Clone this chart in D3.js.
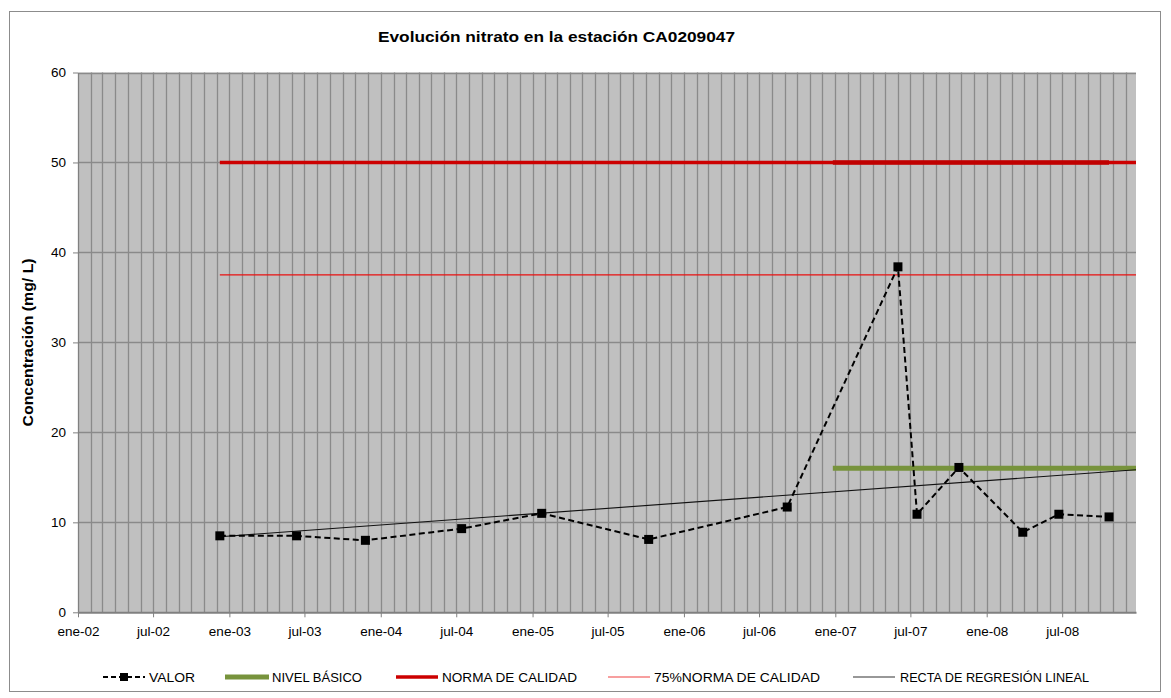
<!DOCTYPE html>
<html>
<head>
<meta charset="utf-8">
<script src="https://cdn.jsdelivr.net/npm/d3@7"></script>
<style>
  html, body { margin: 0; padding: 0; background: #ffffff; }
  svg { display: block; font-family: "Liberation Sans", Arial, sans-serif; }
</style>
</head>
<body>
<svg id="chart" width="1171" height="698"></svg>
<script>
// ---------------- DATA ----------------
const valorDates = ["2002-12-09","2003-06-12","2003-11-25","2004-07-14","2005-01-23","2005-10-08",
                    "2006-09-07","2007-06-01","2007-07-17","2007-10-26","2008-03-28","2008-06-23","2008-10-22"];
const valorValues = [8.5, 8.5, 8.0, 9.3, 11.0, 8.1, 11.7, 38.4, 10.9, 16.1, 8.9, 10.9, 10.6];

const normaDates = ["2002-12-09","2008-12-26"];
const normaValues = [50, 50];
const normaRecentDates = ["2006-12-26","2008-10-22"];
const normaRecentValues = [50, 50];

const norma75Dates = ["2002-12-09","2008-12-26"];
const norma75Values = [37.5, 37.5];

const nivelBasicoDates = ["2006-12-26","2008-12-26"];
const nivelBasicoValues = [16, 16];

const regresionDates = ["2002-12-09","2008-12-26"];
const regresionValues = [8.4, 15.85];

const xTickDates = ["2002-01-01","2002-07-01","2003-01-01","2003-07-01","2004-01-01","2004-07-01","2005-01-01",
                    "2005-07-01","2006-01-01","2006-07-01","2007-01-01","2007-07-01","2008-01-01","2008-07-01"];
const xTickLabels = ["ene-02","jul-02","ene-03","jul-03","ene-04","jul-04","ene-05",
                     "jul-05","ene-06","jul-06","ene-07","jul-07","ene-08","jul-08"];
const yTicks = [0, 10, 20, 30, 40, 50, 60];

const title = "Evolución nitrato en la estación CA0209047";
const yTitle = "Concentración (mg/ L)";
const legendLabels = ["VALOR", "NIVEL BÁSICO", "NORMA DE CALIDAD", "75%NORMA DE CALIDAD", "RECTA DE REGRESIÓN LINEAL"];

// ---------------- LAYOUT ----------------
const parse = d3.utcParse("%Y-%m-%d");
const svg = d3.select("#chart");
const L = 78, R = 1136, T = 72.5, B = 612.3;

const x = d3.scaleUtc().domain([parse("2002-01-01"), parse("2008-12-26")]).range([L, R]);
const y = d3.scaleLinear().domain([0, 60]).range([B, T]);

// outer border
svg.append("rect").attr("x", 9.5).attr("y", 11.5).attr("width", 1151).attr("height", 680)
  .attr("fill", "#ffffff").attr("stroke", "#8c8c8c").attr("stroke-width", 1);

// plot background
svg.append("rect").attr("x", L).attr("y", T).attr("width", R - L).attr("height", B - T).attr("fill", "#c0c0c0");

// vertical monthly gridlines
const months = d3.utcMonth.range(parse("2002-02-01"), parse("2008-12-26"));
svg.append("g").selectAll("line").data(months).join("line")
  .attr("x1", d => Math.round(x(d)) + 0.5).attr("x2", d => Math.round(x(d)) + 0.5)
  .attr("y1", T).attr("y2", B)
  .attr("stroke", "#8a8a8a").attr("stroke-width", 1.3);

// horizontal gridlines
svg.append("g").selectAll("line").data(yTicks.filter(v => v > 0)).join("line")
  .attr("x1", L).attr("x2", R)
  .attr("y1", d => Math.round(y(d)) + 0.5).attr("y2", d => Math.round(y(d)) + 0.5)
  .attr("stroke", "#8a8a8a").attr("stroke-width", 1.3);

// axes
const yAxis = svg.append("g").attr("transform", `translate(${L},0)`)
  .call(d3.axisLeft(y).tickValues(yTicks).tickSize(5).tickSizeOuter(0).tickPadding(7).tickFormat(d3.format("d")));
yAxis.select(".domain").attr("stroke", "#808080").attr("stroke-width", 1.3);
yAxis.selectAll(".tick line").attr("stroke", "#808080");
yAxis.selectAll("text").attr("font-size", 13.5).attr("fill", "#000").attr("font-family", "Liberation Sans, Arial, sans-serif");

const xAxis = svg.append("g").attr("transform", `translate(0,${B})`)
  .call(d3.axisBottom(x).tickValues(xTickDates.map(parse)).tickSize(5).tickSizeOuter(0).tickPadding(9)
    .tickFormat((d, i) => xTickLabels[i]));
xAxis.select(".domain").attr("stroke", "#808080").attr("stroke-width", 2);
xAxis.selectAll(".tick line").attr("stroke", "#808080");
xAxis.selectAll("text").attr("font-size", 13.5).attr("fill", "#000").attr("font-family", "Liberation Sans, Arial, sans-serif");

// series
const line = d3.line().x(d => x(d[0])).y(d => y(d[1]));
const zipS = (ds, vs) => ds.map((d, i) => [parse(d), vs[i]]);

svg.append("path").datum(zipS(norma75Dates, norma75Values)).attr("d", line)
  .attr("fill", "none").attr("stroke", "#e81010").attr("stroke-width", 1.2);
svg.append("path").datum(zipS(normaDates, normaValues)).attr("d", line)
  .attr("fill", "none").attr("stroke", "#cc0000").attr("stroke-width", 3.5);
svg.append("path").datum(zipS(normaRecentDates, normaRecentValues)).attr("d", line)
  .attr("fill", "none").attr("stroke", "#c00000").attr("stroke-width", 4.5);
svg.append("path").datum(zipS(nivelBasicoDates, nivelBasicoValues)).attr("d", line)
  .attr("fill", "none").attr("stroke", "#77933c").attr("stroke-width", 5);
svg.append("path").datum(zipS(regresionDates, regresionValues)).attr("d", line)
  .attr("fill", "none").attr("stroke", "#111").attr("stroke-width", 1.1);

const valor = zipS(valorDates, valorValues);
svg.append("path").datum(valor).attr("d", line)
  .attr("fill", "none").attr("stroke", "#000").attr("stroke-width", 2).attr("stroke-dasharray", "6,3.5");
svg.append("g").selectAll("rect").data(valor).join("rect")
  .attr("x", d => x(d[0]) - 4.5).attr("y", d => y(d[1]) - 4.5)
  .attr("width", 9).attr("height", 9).attr("fill", "#000");

// title
svg.append("text").attr("x", 378).attr("y", 42)
  .attr("font-size", 15).attr("font-weight", "bold").attr("fill", "#000")
  .attr("textLength", 357).attr("lengthAdjust", "spacingAndGlyphs").text(title);

// y title
svg.append("text").attr("transform", `translate(33,${(T + B) / 2}) rotate(-90)`)
  .attr("text-anchor", "middle").attr("font-size", 15).attr("font-weight", "bold")
  .attr("textLength", 168).attr("lengthAdjust", "spacingAndGlyphs")
  .attr("fill", "#000").text(yTitle);

// legend
const ly = 677;
const legend = svg.append("g");
const items = [
  {x1: 103, x2: 145, tx: 149, tw: 46, stroke: "#000", sw: 2, dash: "5,3", marker: true},
  {x1: 225, x2: 269, tx: 272, tw: 90, stroke: "#77933c", sw: 5, dash: null},
  {x1: 396, x2: 438, tx: 442, tw: 135, stroke: "#cc0000", sw: 3.5, dash: null},
  {x1: 608, x2: 650, tx: 654, tw: 166, stroke: "#f04040", sw: 1.2, dash: null},
  {x1: 853, x2: 895, tx: 900, tw: 189, stroke: "#333", sw: 1.2, dash: null}
];
items.forEach((it, i) => {
  legend.append("line").attr("x1", it.x1).attr("x2", it.x2).attr("y1", ly).attr("y2", ly)
    .attr("stroke", it.stroke).attr("stroke-width", it.sw).attr("stroke-dasharray", it.dash);
  if (it.marker) {
    legend.append("rect").attr("x", (it.x1 + it.x2) / 2 - 4).attr("y", ly - 4)
      .attr("width", 8).attr("height", 8).attr("fill", "#000");
  }
  legend.append("text").attr("x", it.tx).attr("y", ly + 5).attr("font-size", 13)
    .attr("fill", "#000").attr("textLength", it.tw).attr("lengthAdjust", "spacingAndGlyphs")
    .text(legendLabels[i]);
});
</script>
</body>
</html>
